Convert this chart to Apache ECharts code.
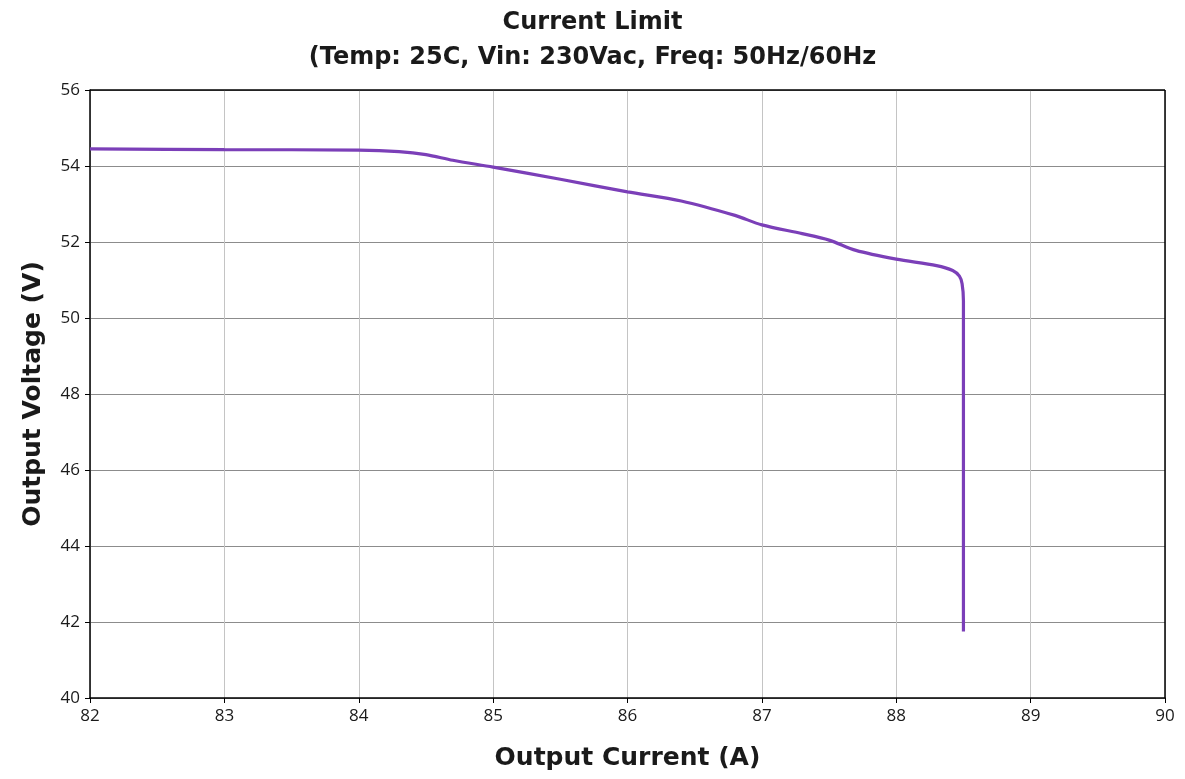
<!DOCTYPE html>
<html>
<head>
<meta charset="utf-8">
<script src="https://cdn.jsdelivr.net/npm/echarts@6/dist/echarts.min.js"></script>
<style>
  html, body { margin: 0; padding: 0; background: #fff; }
  #main { width: 1185px; height: 779px; }
</style>
</head>
<body>
<div id="main"></div>
<script>
// output current (A) vs output voltage (V)
var currentA = [82.0, 83.0, 84.0, 84.3, 84.5, 84.7, 85.0, 85.5, 86.0, 86.4, 86.8, 87.0, 87.3, 87.5, 87.7, 88.0, 88.3, 88.42, 88.47, 88.49, 88.5, 88.5];
var voltageV = [54.45, 54.43, 54.42, 54.38, 54.3, 54.15, 53.97, 53.65, 53.32, 53.08, 52.7, 52.45, 52.22, 52.05, 51.78, 51.55, 51.38, 51.25, 51.1, 50.9, 50.45, 41.75];

var points = [];
for (var i = 0; i < currentA.length; i++) {
    points.push([currentA[i], voltageV[i]]);
}

var myChart = echarts.init(document.getElementById('main'));
myChart.setOption({
    animation: false,
    title: {
        text: 'Current Limit\n(Temp: 25C, Vin: 230Vac, Freq: 50Hz/60Hz',
        left: 'center',
        top: 0,
        textStyle: {
            fontFamily: 'DejaVu Sans',
            fontWeight: 'bold',
            fontSize: 24,
            color: '#1a1a1a',
            lineHeight: 35
        }
    },
    grid: { left: 90, right: 20, top: 90, bottom: 81 },
    xAxis: {
        type: 'value',
        min: 82, max: 90, interval: 1,
        name: 'Output Current (A)',
        nameLocation: 'middle',
        nameGap: 48,
        nameTextStyle: { fontFamily: 'DejaVu Sans', fontWeight: 'bold', fontSize: 25, color: '#1a1a1a' },
        axisLine: { lineStyle: { color: '#000', width: 1.5 } },
        axisTick: { show: true, length: 5, lineStyle: { color: '#000' } },
        axisLabel: { fontFamily: 'Open Sans', fontSize: 17, color: '#1a1a1a', margin: 10 },
        splitLine: { show: true, lineStyle: { color: '#c4c4c4', width: 1 } }
    },
    yAxis: {
        type: 'value',
        min: 40, max: 56, interval: 2,
        name: 'Output Voltage (V)',
        nameLocation: 'middle',
        nameGap: 44,
        nameTextStyle: { fontFamily: 'DejaVu Sans', fontWeight: 'bold', fontSize: 25, color: '#1a1a1a' },
        axisLine: { show: true, lineStyle: { color: '#000', width: 1.5 } },
        axisTick: { show: true, length: 5, lineStyle: { color: '#000' } },
        axisLabel: { fontFamily: 'Open Sans', fontSize: 17, color: '#1a1a1a', margin: 10 },
        splitLine: { show: true, lineStyle: { color: '#8c8c8c', width: 1.2 } }
    },
    series: [
        {
            type: 'line',
            data: points,
            smooth: 0.3,
            showSymbol: false,
            lineStyle: { color: '#7b3fb8', width: 3.2 }
        },
        {
            // frame on the top and right edges
            type: 'line',
            data: [],
            markLine: {
                silent: true,
                symbol: 'none',
                label: { show: false },
                lineStyle: { color: '#000', width: 1.5, type: 'solid' },
                data: [
                    { yAxis: 56 },
                    { xAxis: 90 }
                ]
            }
        }
    ]
});
</script>
</body>
</html>
